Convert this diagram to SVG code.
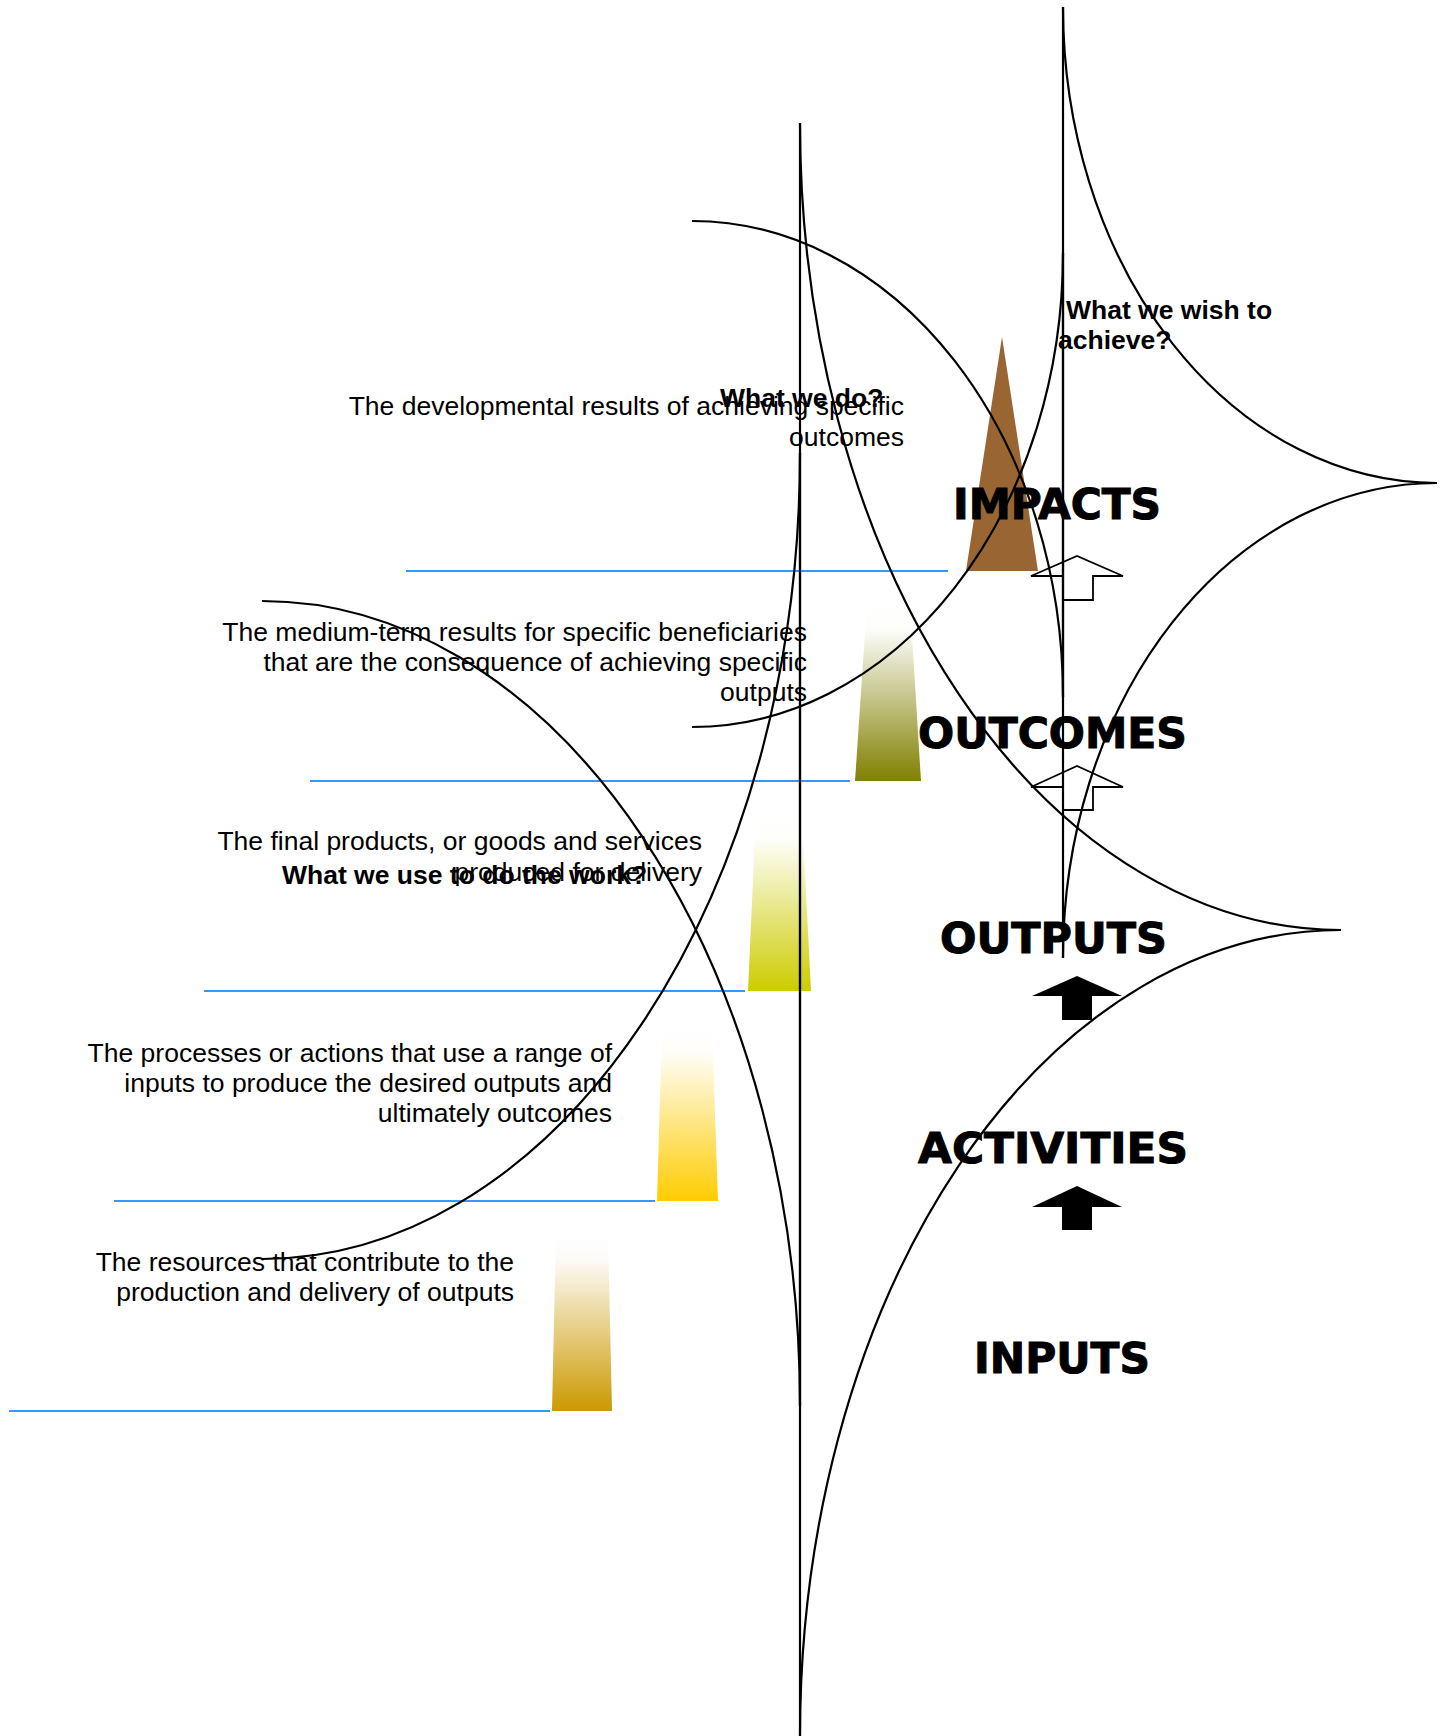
<svg xmlns="http://www.w3.org/2000/svg" width="1447" height="1736" viewBox="0 0 1447 1736">
<style>
.title{font-family:"DejaVu Sans","Liberation Sans",sans-serif;font-weight:bold;font-size:42px;fill:#000;stroke:#000;stroke-width:1}
.desc{font-family:"Liberation Sans",Arial,sans-serif;font-size:26.5px;fill:#000;text-anchor:end}
.q{font-family:"Liberation Sans",Arial,sans-serif;font-weight:bold;font-size:26.5px;fill:#000}
.rule{stroke:#3399FF;stroke-width:2;fill:none}
.brace{stroke:#000;stroke-width:2.2;fill:none}
.oarrow{fill:#fff;stroke:#000;stroke-width:1.8}
.sarrow{fill:#000;stroke:none}
</style>
<defs>
<linearGradient id="gOutcomes" x1="0" y1="0" x2="0" y2="1"><stop offset="0" stop-color="#fff"/><stop offset="0.15" stop-color="#fdfdfa"/><stop offset="1" stop-color="#808000"/></linearGradient>
<linearGradient id="gOutputs" x1="0" y1="0" x2="0" y2="1"><stop offset="0" stop-color="#fff"/><stop offset="0.15" stop-color="#fefefa"/><stop offset="1" stop-color="#CCCC00"/></linearGradient>
<linearGradient id="gActivities" x1="0" y1="0" x2="0" y2="1"><stop offset="0" stop-color="#fff"/><stop offset="0.15" stop-color="#fffdf8"/><stop offset="1" stop-color="#FFCC00"/></linearGradient>
<linearGradient id="gInputs" x1="0" y1="0" x2="0" y2="1"><stop offset="0" stop-color="#fff"/><stop offset="0.15" stop-color="#fdfbf8"/><stop offset="1" stop-color="#CC9900"/></linearGradient>
</defs>

<g id="node-impacts">
<polygon points="1002,337 1038,571 966,571" fill="#996633"/>
<line class="rule" x1="406" y1="571" x2="948" y2="571"/>
</g>
<g id="node-outcomes">
<polygon points="867,603 910,603 921,781 855,781" fill="url(#gOutcomes)"/>
<line class="rule" x1="310" y1="781" x2="850" y2="781"/>
</g>
<g id="node-outputs">
<polygon points="756,813 802,813 811,991 748,991" fill="url(#gOutputs)"/>
<line class="rule" x1="204" y1="991" x2="745" y2="991"/>
</g>
<g id="node-activities">
<polygon points="662,1027 712,1027 718,1201 657,1201" fill="url(#gActivities)"/>
<line class="rule" x1="114" y1="1201" x2="655" y2="1201"/>
</g>
<g id="node-inputs">
<polygon points="556,1233 608,1233 612,1411 552,1411" fill="url(#gInputs)"/>
<line class="rule" x1="9" y1="1411" x2="550" y2="1411"/>
</g>

<g id="connectors">
<path class="oarrow" d="M1031,576 L1077,556 L1123,576 L1093,576 L1093,600 L1063,600 L1063,576 Z"/>
<path class="oarrow" d="M1031,787 L1077,766 L1123,787 L1093,787 L1093,810 L1063,810 L1063,787 Z"/>
<path class="sarrow" d="M1032,996 L1077,976 L1122,996 L1092,996 L1092,1020 L1062,1020 L1062,996 Z"/>
<path class="sarrow" d="M1032,1207 L1077,1186 L1122,1207 L1092,1207 L1092,1230 L1062,1230 L1062,1207 Z"/>
</g>

<g id="brace-wish">
<line class="brace" x1="1063" y1="7" x2="1063" y2="958"/>
<path class="brace" d="M1063,7 A374,476 0 0,0 1437,483 A374,475 0 0,0 1063,958"/>
</g>
<g id="brace-main">
<line class="brace" x1="800" y1="123" x2="800" y2="1736"/>
<path class="brace" d="M800,123 A541,807 0 0,0 1341,930 A541,806 0 0,0 800,1736"/>
</g>
<g id="brace-do">
<line class="brace" x1="1063" y1="253" x2="1063" y2="697"/>
<path class="brace" d="M692,221 A371,476 0 0,1 1063,697"/>
<path class="brace" d="M692,727 A371,474 0 0,0 1063,253"/>
</g>
<g id="brace-use">
<line class="brace" x1="800" y1="453" x2="800" y2="1406"/>
<path class="brace" d="M262,601 A538,805 0 0,1 800,1406"/>
<path class="brace" d="M262,1259 A538,806 0 0,0 800,453"/>
</g>

<g id="labels">
<text class="q" x="1066" y="319">What we wish to</text>
<text class="q" x="1058" y="349">achieve?</text>
<text class="desc" x="904" y="415">The developmental results of achieving specific</text>
<text class="desc" x="904" y="446">outcomes</text>
<text class="q" x="720" y="407">What we do?</text>
<text class="title" x="953" y="519" textLength="208" lengthAdjust="spacingAndGlyphs">IMPACTS</text>
<text class="desc" x="807" y="641">The medium-term results for specific beneficiaries</text>
<text class="desc" x="807" y="671">that are the consequence of achieving specific</text>
<text class="desc" x="807" y="701">outputs</text>
<text class="title" x="918" y="748" textLength="269" lengthAdjust="spacingAndGlyphs">OUTCOMES</text>
<text class="desc" x="702" y="850">The final products, or goods and services</text>
<text class="desc" x="702" y="881">produced for delivery</text>
<text class="q" x="282" y="884">What we use to do the work?</text>
<text class="title" x="940" y="953" textLength="227" lengthAdjust="spacingAndGlyphs">OUTPUTS</text>
<text class="desc" x="612" y="1062">The processes or actions that use a range of</text>
<text class="desc" x="612" y="1092">inputs to produce the desired outputs and</text>
<text class="desc" x="612" y="1122">ultimately outcomes</text>
<text class="title" x="918" y="1163" textLength="270" lengthAdjust="spacingAndGlyphs">ACTIVITIES</text>
<text class="desc" x="514" y="1271">The resources that contribute to the</text>
<text class="desc" x="514" y="1301">production and delivery of outputs</text>
<text class="title" x="974" y="1373" textLength="176" lengthAdjust="spacingAndGlyphs">INPUTS</text>
</g>
</svg>
